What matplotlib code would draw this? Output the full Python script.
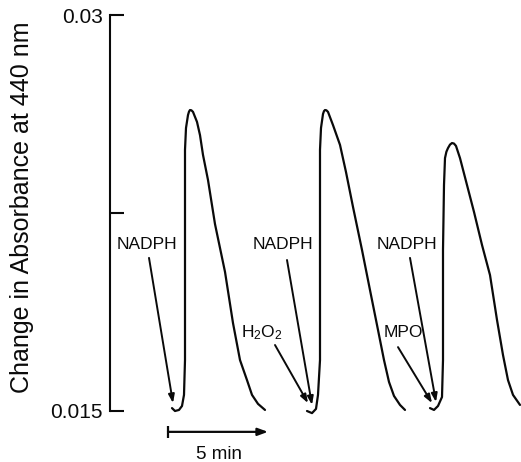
import matplotlib
matplotlib.use("Agg")
import matplotlib.pyplot as plt

plt.rcParams.update({
    "font.family": "Liberation Sans",
    "mathtext.fontset": "custom",
    "mathtext.rm": "Liberation Sans",
    "mathtext.it": "Liberation Sans",
})

# ── Data (time in min, absorbance change at 440 nm) ──────────────────────────
t1 = [3.10, 3.25, 3.45, 3.60, 3.70, 3.75, 3.75, 3.75, 3.75, 3.80, 3.90, 3.95,
      4.00, 4.07, 4.15, 4.35, 4.50, 4.65, 4.90, 5.25, 5.75, 6.15, 6.50, 6.85,
      7.10, 7.40, 7.75]
a1 = [0.01511, 0.01500, 0.01504, 0.01519, 0.01561, 0.01693, 0.01920, 0.02299,
      0.02489, 0.02572, 0.02621, 0.02634, 0.02640, 0.02639, 0.02633, 0.02595,
      0.02545, 0.02470, 0.02375, 0.02208, 0.02027, 0.01833, 0.01693, 0.01617,
      0.01561, 0.01527, 0.01504]

t2 = [9.85, 10.10, 10.30, 10.40, 10.50, 10.50, 10.50, 10.55, 10.65, 10.70, 10.75,
      10.82, 10.90, 11.15, 11.50, 11.80, 12.15, 12.60, 13.00, 13.40, 13.70, 13.95,
      14.20, 14.50, 14.75]
a2 = [0.01500, 0.01492, 0.01508, 0.01561, 0.01693, 0.02110, 0.02489, 0.02572,
      0.02625, 0.02636, 0.02640, 0.02639, 0.02633, 0.02583, 0.02508, 0.02405,
      0.02273, 0.02110, 0.01958, 0.01807, 0.01693, 0.01610, 0.01557, 0.01523, 0.01504]

t3 = [16.00, 16.20, 16.40, 16.60, 16.65, 16.65, 16.70, 16.75, 16.82, 16.90, 17.00,
      17.10, 17.20, 17.30, 17.50, 17.85, 18.20, 18.60, 19.00, 19.35, 19.65, 19.90,
      20.15, 20.50]
a3 = [0.01511, 0.01504, 0.01519, 0.01553, 0.01693, 0.02110, 0.02356, 0.02458,
      0.02482, 0.02496, 0.02509, 0.02515, 0.02513, 0.02504, 0.02458, 0.02356,
      0.02254, 0.02129, 0.02015, 0.01845, 0.01712, 0.01617, 0.01561, 0.01523]

y_ticks = [0.015, 0.0225, 0.03]
y_ticklabels = ["0.015", "", "0.03"]

# label, text position, arrow start, arrow end
labels = ["NADPH", "NADPH", r"H$_2$O$_2$", "NADPH", "MPO"]
label_xy = [(1.85, 0.02129), (8.65, 0.02129), (7.60, 0.01795),
            (14.85, 0.02129), (14.65, 0.01799)]
arrow_from = [(1.95, 0.02080), (8.85, 0.02072), (8.25, 0.01750),
              (15.00, 0.02080), (14.40, 0.01742)]
arrow_to = [(3.15, 0.01530), (10.10, 0.01523), (9.90, 0.01530),
            (16.30, 0.01534), (16.10, 0.01530)]

scale_bar = (2.9, 7.9)   # 5 min

INK = "#0a0a0a"

# ── Figure ────────────────────────────────────────────────────────────────────
fig = plt.figure(figsize=(5.21, 4.62), dpi=100)
ax = fig.add_axes([110 / 521, 51 / 462, 411 / 521, 396 / 462])

for t, a in [(t1, a1), (t2, a2), (t3, a3)]:
    ax.plot(t, a, color=INK, lw=1.6, clip_on=False,
            solid_joinstyle="round", solid_capstyle="round")

for lbl, (tx, ty), p0, p1 in zip(labels, label_xy, arrow_from, arrow_to):
    ax.text(tx, ty, lbl, fontsize=12.5, ha="center", va="center", color=INK)
    ax.annotate("", xy=p1, xytext=p0,
                arrowprops=dict(arrowstyle="-|>,head_length=0.5,head_width=0.18",
                                color=INK, lw=1.4, shrinkA=0, shrinkB=0),
                annotation_clip=False)

# scale bar
bar_y = 0.01421
ax.annotate("", xy=(scale_bar[1], bar_y), xytext=(scale_bar[0], bar_y),
            arrowprops=dict(arrowstyle="-|>,head_length=0.6,head_width=0.22",
                            color=INK, lw=1.6, shrinkA=0, shrinkB=0),
            annotation_clip=False)
ax.plot([scale_bar[0]], [bar_y], marker="|", markersize=8, mew=1.6,
        color=INK, clip_on=False)
ax.text(sum(scale_bar) / 2 + 0.05, 0.01335, "5 min", fontsize=13.5,
        ha="center", va="center", color=INK, clip_on=False)

ax.set_xlim(0, 20.55)
ax.set_ylim(0.015, 0.03)
ax.set_yticks(y_ticks)
ax.set_yticklabels(y_ticklabels)
ax.tick_params(axis="y", direction="in", length=10, width=1.5, pad=5,
               labelsize=15, colors=INK)
ax.xaxis.set_visible(False)
for side in ["top", "right", "bottom"]:
    ax.spines[side].set_visible(False)
ax.spines["left"].set_linewidth(1.5)
ax.spines["left"].set_color(INK)
ax.patch.set_alpha(0)

fig.text(22 / 521, (462 - 207.5) / 462, "Change in Absorbance at 440 nm",
         rotation=90, ha="center", va="center", fontsize=18, color=INK)

fig.savefig("out.png", dpi=100)
